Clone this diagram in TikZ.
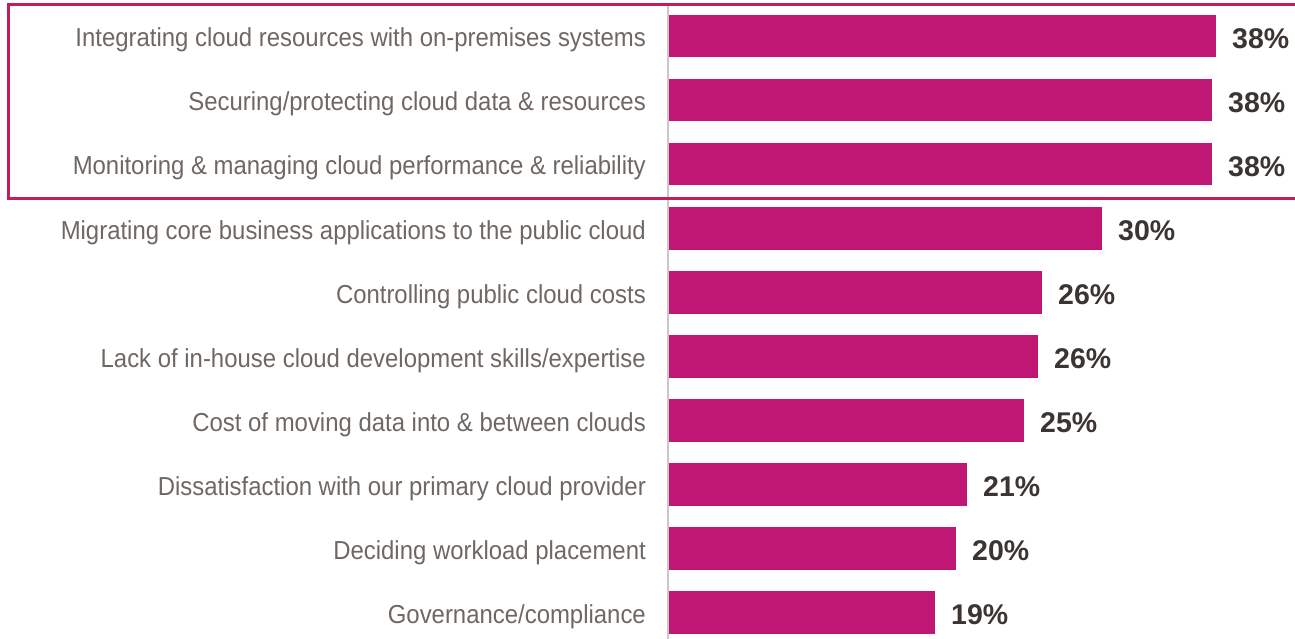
\documentclass[tikz,border=0pt]{standalone}
\usepackage{fontspec}
\setmainfont{Liberation Sans}
\newfontfamily\narrowfont{Liberation Sans}[FakeStretch=0.92]

\definecolor{barpink}{RGB}{192,23,117}
\definecolor{boxred}{RGB}{196,30,88}
\definecolor{labgray}{RGB}{110,103,98}
\definecolor{pctdark}{RGB}{59,52,48}
\definecolor{axisgray}{RGB}{200,200,200}

\begin{document}
\begin{tikzpicture}[x=1pt,y=-1pt,
    lab/.style={anchor=base east,inner sep=0pt,text=labgray,font=\narrowfont\fontsize{26}{30}\selectfont},
    pct/.style={anchor=base west,inner sep=0pt,text=pctdark,font=\bfseries\fontsize{28.5}{32}\selectfont},
    bar/.style={fill=barpink,draw=none}]
    % Canvas (pixel coordinates, y pointing down)
    \useasboundingbox (0,0) rectangle (1295,639);

    % Axis
    \coordinate (axtop) at (668,6);
    \coordinate (axbot) at (668,639);
    \draw[axisgray,line width=1.5pt] (axtop) -- (axbot);

    % Rows: index / bar end / label / value
    \foreach \i/\xend/\txt/\val in {
        0/1216/{Integrating cloud resources with on-premises systems}/38,
        1/1212/{Securing/protecting cloud data \& resources}/38,
        2/1212/{Monitoring \& managing cloud performance \& reliability}/38,
        3/1102/{Migrating core business applications to the public cloud}/30,
        4/1042/{Controlling public cloud costs}/26,
        5/1038/{Lack of in-house cloud development skills/expertise}/26,
        6/1024/{Cost of moving data into \& between clouds}/25,
        7/967/{Dissatisfaction with our primary cloud provider}/21,
        8/956/{Deciding workload placement}/20,
        9/935/{Governance/compliance}/19}{
        \fill[bar] (669,{15+64*\i}) rectangle (\xend,{57.5+64*\i});
        \node[lab] (lab\i) at (646,{47+64*\i}) {\txt};
        \node[pct] (pct\i) at (\xend+16,{48.5+64*\i}) {\val\%};
    }

    % Highlight box round the top three rows
    \draw[boxred,line width=3.2pt] (8.5,4.5) rectangle (1310,198.5);
\end{tikzpicture}
\end{document}
